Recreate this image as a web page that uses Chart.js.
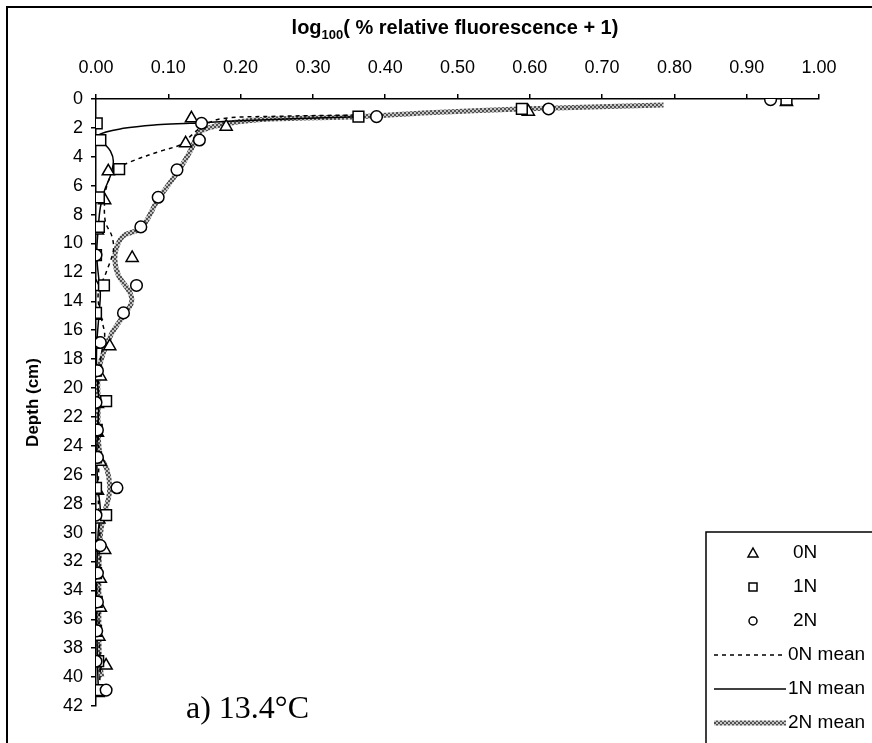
<!DOCTYPE html>
<html>
<head>
<meta charset="utf-8">
<title>Fluorescence depth profile</title>
<script src="https://cdn.jsdelivr.net/npm/chart.js"></script>
<style>
  html, body { margin: 0; padding: 0; background: #fff; }
  #wrap { width: 872px; height: 743px; }
</style>
</head>
<body>
<div id="wrap"><canvas id="depthChart" width="872" height="743"></canvas></div>
<script>
// marker series (depth in cm, value = log100(% relative fluorescence + 1))
const depth0N = [0.2, 0.88, 1.34, 1.92, 3.07, 5.0, 7.0, 9.1, 11.0, 13.0, 15.0, 17.1, 19.2, 21.1, 23.1, 25.1, 27.1, 29.1, 31.2, 33.2, 35.2, 37.2, 39.2, 41.1];
const val0N   = [0.955, 0.598, 0.132, 0.180, 0.124, 0.017, 0.012, 0.002, 0.050, 0.000, 0.000, 0.019, 0.006, 0.002, 0.002, 0.006, 0.002, 0.004, 0.012, 0.006, 0.006, 0.004, 0.014, 0.003];

const depth1N = [0.05, 0.69, 1.22, 1.68, 2.84, 4.85, 6.8, 8.85, 10.8, 12.9, 14.8, 16.85, 18.8, 20.9, 22.9, 24.8, 26.9, 28.8, 30.9, 32.8, 34.8, 36.8, 38.9, 40.9];
const val1N   = [0.955, 0.589, 0.363, 0.001, 0.006, 0.032, 0.004, 0.004, 0.000, 0.011, 0.000, 0.000, 0.000, 0.014, 0.001, 0.000, 0.000, 0.014, 0.000, 0.000, 0.001, 0.000, 0.003, 0.002];

const depth2N = [0.05, 0.69, 1.22, 1.68, 2.84, 4.9, 6.8, 8.85, 10.8, 12.9, 14.8, 16.85, 18.8, 21.0, 22.9, 24.8, 26.9, 28.8, 30.9, 32.8, 34.8, 36.8, 38.9, 40.9];
const val2N   = [0.933, 0.626, 0.388, 0.146, 0.143, 0.112, 0.086, 0.062, 0.000, 0.056, 0.038, 0.006, 0.002, 0.000, 0.002, 0.002, 0.029, 0.000, 0.006, 0.002, 0.002, 0.001, 0.000, 0.014];

// mean curves
const depth0NMean = [1.1, 1.2, 1.35, 1.8, 2.6, 3.1, 3.6, 4.3, 5.0, 6.0, 7.0, 8.5, 9.5, 10.5, 12.0, 13.5, 15.3, 16.3, 17.5, 19, 21, 23, 25, 27, 29, 31, 33, 35, 37, 39, 40.5];
const val0NMean   = [0.370, 0.250, 0.175, 0.150, 0.130, 0.120, 0.090, 0.050, 0.025, 0.015, 0.012, 0.013, 0.022, 0.024, 0.014, 0.003, 0.008, 0.012, 0.008, 0.004, 0.003, 0.003, 0.004, 0.003, 0.004, 0.006, 0.005, 0.005, 0.004, 0.006, 0.005];

const depth1NMean = [1.22, 1.5, 1.68, 1.78, 2.03, 2.5, 3.0, 3.6, 4.3, 5.3, 6.3, 7.5, 9.0, 10.8, 12.5, 13.5, 15, 17, 19, 21, 23, 25, 27, 28.5, 30, 33, 36, 39, 40.5];
const val1NMean   = [0.363, 0.200, 0.130, 0.084, 0.038, 0.003, 0.010, 0.020, 0.024, 0.020, 0.012, 0.006, 0.003, 0.001, 0.004, 0.006, 0.004, 0.001, 0.001, 0.004, 0.002, 0.001, 0.003, 0.006, 0.003, 0.001, 0.001, 0.002, 0.003];

const depth2NMean = [0.42, 0.69, 0.95, 1.22, 1.39, 1.68, 2.26, 3.46, 4.97, 6.93, 8.9, 9.47, 10.2, 11.1, 12.2, 13.4, 14.1, 15.0, 16.2, 17.6, 19.0, 21, 23.1, 24.7, 25.6, 26.8, 27.7, 28.9, 30.0, 31, 33, 35, 37, 39, 40.0];
const val2NMean   = [0.785, 0.586, 0.460, 0.365, 0.240, 0.185, 0.144, 0.132, 0.114, 0.086, 0.063, 0.038, 0.029, 0.026, 0.031, 0.047, 0.049, 0.038, 0.022, 0.010, 0.003, 0.003, 0.003, 0.006, 0.015, 0.019, 0.017, 0.010, 0.0065, 0.005, 0.004, 0.004, 0.004, 0.005, 0.008];

function pts(depths, vals) {
  return depths.map((d, i) => ({ x: vals[i], y: d }));
}

// hatched gray for the 2N mean line
function makeHatch() {
  const c = document.createElement("canvas");
  c.width = 4; c.height = 4;
  const g = c.getContext("2d");
  g.fillStyle = "#c4c4c4";
  g.fillRect(0, 0, 4, 4);
  g.fillStyle = "#505050";
  g.fillRect(0, 0, 2, 2);
  g.fillRect(2, 2, 2, 2);
  return g.createPattern(c, "repeat");
}
const hatch = makeHatch();

const FONT = "'Liberation Sans', Arial, sans-serif";

const markerBase = {
  showLine: false,
  backgroundColor: "#fff",
  borderColor: "#000",
  pointBackgroundColor: "#fff",
  pointBorderColor: "#000",
  pointBorderWidth: 1.5
};

const datasets = [
  Object.assign({ label: "0N", data: pts(depth0N, val0N), pointStyle: "triangle", pointRadius: 7, order: 3 }, markerBase),
  Object.assign({ label: "1N", data: pts(depth1N, val1N), pointStyle: "rect", pointRadius: 7.6, order: 2 }, markerBase),
  Object.assign({ label: "2N", data: pts(depth2N, val2N), pointStyle: "circle", pointRadius: 5.8, order: 1 }, markerBase),
  { label: "0N mean", data: pts(depth0NMean, val0NMean), showLine: true, pointRadius: 0,
    borderColor: "#000", borderWidth: 1.5, borderDash: [4, 4], tension: 0.35, order: 5 },
  { label: "1N mean", data: pts(depth1NMean, val1NMean), showLine: true, pointRadius: 0,
    borderColor: "#000", borderWidth: 1.5, tension: 0.35, order: 6 },
  { label: "2N mean", data: pts(depth2NMean, val2NMean), showLine: true, pointRadius: 0,
    borderColor: hatch, borderWidth: 5, tension: 0.35, order: 7 }
];

// frame, top title with subscript, legend box and panel label
const extras = {
  id: "extras",
  afterDraw(chart) {
    const ctx = chart.ctx;
    ctx.save();
    ctx.strokeStyle = "#000";
    ctx.lineWidth = 2;
    ctx.strokeRect(7, 7, 900, 800);

    // title
    const big = "bold 20px " + FONT, small = "bold 13px " + FONT;
    const p1 = "log", p2 = "100", p3 = "( % relative fluorescence + 1)";
    ctx.font = big; const w1 = ctx.measureText(p1).width, w3 = ctx.measureText(p3).width;
    ctx.font = small; const w2 = ctx.measureText(p2).width;
    let x = 455 - (w1 + w2 + w3) / 2;
    const ty = 34;
    ctx.fillStyle = "#000";
    ctx.textBaseline = "alphabetic";
    ctx.textAlign = "left";
    ctx.font = big; ctx.fillText(p1, x, ty); x += w1;
    ctx.font = small; ctx.fillText(p2, x, ty + 5); x += w2;
    ctx.font = big; ctx.fillText(p3, x, ty);

    // legend
    ctx.lineWidth = 1.5;
    ctx.strokeRect(706, 532, 200, 260);
    const ly0 = 553, step = 34;
    ctx.font = "19px " + FONT;
    ctx.textBaseline = "middle";
    chart.data.datasets.forEach((ds, i) => {
      const y = ly0 + i * step;
      ctx.save();
      if (ds.showLine) {
        ctx.strokeStyle = ds.borderColor;
        ctx.lineWidth = ds.borderWidth;
        ctx.setLineDash(ds.borderDash || []);
        ctx.beginPath();
        ctx.moveTo(714, y);
        ctx.lineTo(786, y);
        ctx.stroke();
      } else {
        ctx.strokeStyle = "#000";
        ctx.fillStyle = "#fff";
        ctx.lineWidth = 1.5;
        const cx = 753, r = 5;
        ctx.beginPath();
        if (ds.pointStyle === "triangle") {
          ctx.moveTo(cx, y - r); ctx.lineTo(cx + r, y + r * 0.8); ctx.lineTo(cx - r, y + r * 0.8); ctx.closePath();
        } else if (ds.pointStyle === "rect") {
          ctx.rect(cx - 4, y - 4, 8, 8);
        } else {
          ctx.arc(cx, y, 4, 0, Math.PI * 2);
        }
        ctx.fill(); ctx.stroke();
      }
      ctx.restore();
      ctx.fillStyle = "#000";
      ctx.fillText(ds.label, ds.showLine ? 788 : 793, y);
    });

    // panel label
    ctx.font = "32px 'Liberation Serif', 'Times New Roman', serif";
    ctx.textBaseline = "middle";
    ctx.fillText("a) 13.4\u00B0C", 186, 710);
    ctx.restore();
  }
};

new Chart(document.getElementById("depthChart"), {
  type: "scatter",
  data: { datasets: datasets },
  options: {
    responsive: false,
    animation: false,
    devicePixelRatio: 1,
    layout: { padding: { left: 0, top: 0, right: 53, bottom: 37 } },
    plugins: { legend: { display: false }, tooltip: { enabled: false }, title: { display: false } },
    scales: {
      x: {
        type: "linear",
        position: "top",
        min: 0, max: 1,
        ticks: {
          stepSize: 0.1,
          color: "#000",
          padding: 15,
          font: { family: FONT, size: 18 },
          callback: (v) => v.toFixed(2)
        },
        grid: { drawOnChartArea: false, drawTicks: true, tickLength: 5, color: "#000", lineWidth: 1.5 },
        border: { display: true, color: "#000", width: 1.5 },
        afterFit: (axis) => { axis.height = 99; }
      },
      y: {
        type: "linear",
        position: "left",
        reverse: true,
        min: 0, max: 42,
        ticks: {
          stepSize: 2,
          color: "#000",
          padding: 8,
          font: { family: FONT, size: 18 }
        },
        grid: { drawOnChartArea: false, drawTicks: true, tickLength: 5, color: "#000", lineWidth: 1.5 },
        border: { display: true, color: "#000", width: 1.5 },
        title: {
          display: true,
          text: "Depth (cm)",
          color: "#000",
          font: { family: FONT, size: 17, weight: "bold" },
          padding: { top: 23, bottom: 0 }
        },
        afterFit: (axis) => { axis.width = 96; }
      }
    }
  },
  plugins: [extras]
});
</script>
</body>
</html>
